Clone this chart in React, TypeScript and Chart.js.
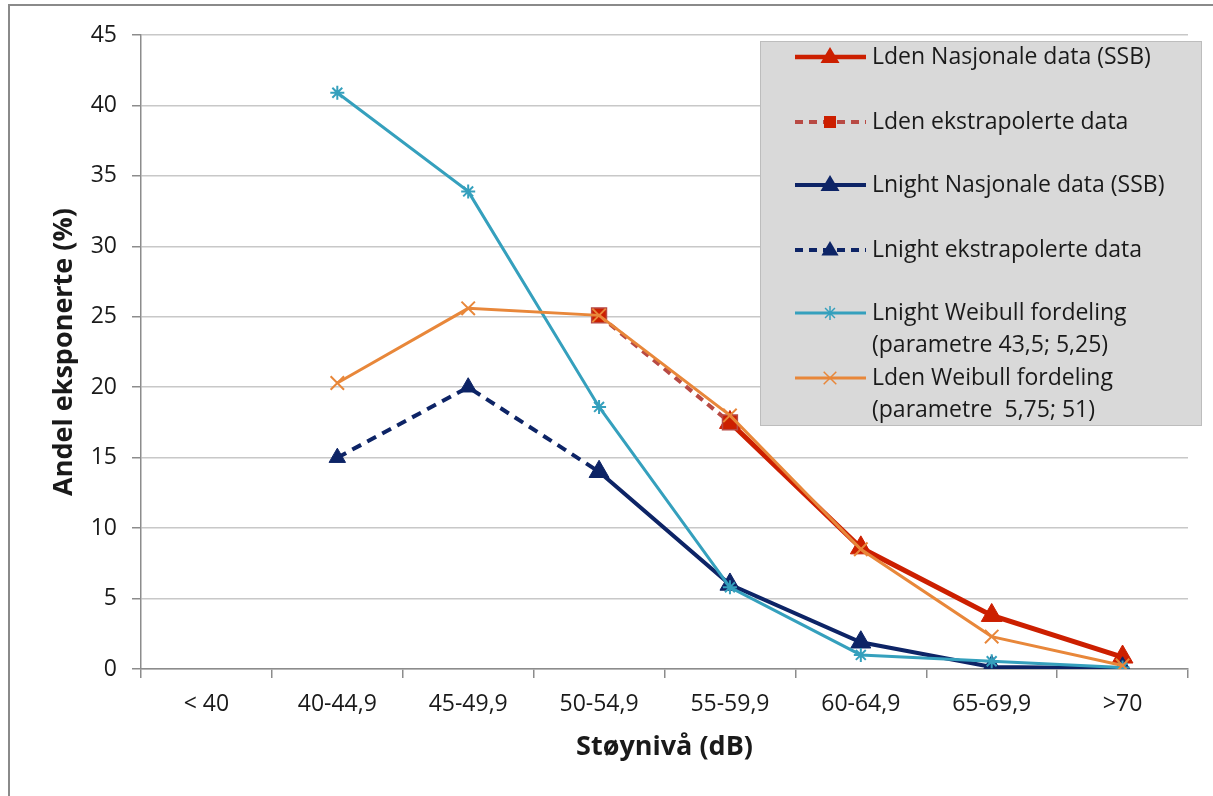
import React, { useEffect, useRef } from "react";
import { Chart, registerables } from "chart.js";

Chart.register(...registerables);

const categories = ["< 40", "40-44,9", "45-49,9", "50-54,9", "55-59,9", "60-64,9", "65-69,9", ">70"];
const ldenNasjonale = [null, null, null, null, 17.5, 8.6, 3.8, 0.85];
const ldenEkstrapolert = [null, null, null, 25.1, 17.5, null, null, null];
const lnightNasjonale = [null, null, null, 14.0, 6.0, 1.9, 0.15, 0.05];
const lnightEkstrapolert = [null, 15.0, 20.0, 14.0, null, null, null, null];
const lnightWeibull = [null, 40.9, 33.9, 18.6, 5.8, 1.0, 0.55, 0.1];
const ldenWeibull = [null, 20.3, 25.6, 25.1, 18.0, 8.5, 2.3, 0.25];

const seriesNames = [
  ["Lden Nasjonale data (SSB)"],
  ["Lden ekstrapolerte data"],
  ["Lnight Nasjonale data (SSB)"],
  ["Lnight ekstrapolerte data"],
  ["Lnight Weibull fordeling", "(parametre 43,5; 5,25)"],
  ["Lden Weibull fordeling", "(parametre  5,75; 51)"],
];

const RED = "#cc1f00";
const BROWN = "#b84a44";
const NAVY = "#0d2466";
const TEAL = "#35a0bd";
const ORANGE = "#e8873a";
const FONT = "'Open Sans', Lato, sans-serif";

function drawMarker(ctx: CanvasRenderingContext2D, style: string, x: number, y: number, r: number, fill: string, stroke: string) {
  ctx.save();
  ctx.fillStyle = fill;
  ctx.strokeStyle = stroke;
  ctx.lineWidth = 1.5;
  ctx.setLineDash([]);
  ctx.beginPath();
  if (style === "triangle") {
    ctx.moveTo(x, y - r);
    ctx.lineTo(x + r * 0.95, y + r * 0.6);
    ctx.lineTo(x - r * 0.95, y + r * 0.6);
    ctx.closePath();
    ctx.fill();
  } else if (style === "rect") {
    ctx.rect(x - r * 0.75, y - r * 0.75, r * 1.5, r * 1.5);
    ctx.fill();
  } else if (style === "star") {
    for (let i = 0; i < 4; i++) {
      const a = (i * Math.PI) / 4;
      ctx.moveTo(x - Math.cos(a) * r, y - Math.sin(a) * r);
      ctx.lineTo(x + Math.cos(a) * r, y + Math.sin(a) * r);
    }
    ctx.stroke();
  } else if (style === "crossRot") {
    const d = r * 0.7;
    ctx.moveTo(x - d, y - d);
    ctx.lineTo(x + d, y + d);
    ctx.moveTo(x + d, y - d);
    ctx.lineTo(x - d, y + d);
    ctx.stroke();
  }
  ctx.restore();
}

const legendSpec = [
  { color: RED, width: 4.5, dash: [] as number[], marker: "triangle", r: 10, fill: RED },
  { color: BROWN, width: 4, dash: [8, 6], marker: "rect", r: 8, fill: RED },
  { color: NAVY, width: 4, dash: [] as number[], marker: "triangle", r: 10, fill: NAVY },
  { color: NAVY, width: 4, dash: [8, 6], marker: "triangle", r: 9, fill: NAVY },
  { color: TEAL, width: 3, dash: [] as number[], marker: "star", r: 7, fill: TEAL },
  { color: ORANGE, width: 3, dash: [] as number[], marker: "crossRot", r: 9, fill: ORANGE },
];

const legendPlugin = {
  id: "boxLegend",
  afterDraw(chart: any) {
    const ctx: CanvasRenderingContext2D = chart.ctx;
    const left = 760, top = 41, w = 441, h = 384;
    ctx.save();
    ctx.fillStyle = "#d9d9d9";
    ctx.fillRect(left, top, w, h);
    ctx.strokeStyle = "#bdbdbd";
    ctx.lineWidth = 1;
    ctx.strokeRect(left + 0.5, top + 0.5, w, h);
    const rows = [57, 122, 185, 250, 313, 378];
    rows.forEach((cy, i) => {
      const s = legendSpec[i];
      ctx.beginPath();
      ctx.strokeStyle = s.color;
      ctx.lineWidth = s.width;
      ctx.setLineDash(s.dash);
      ctx.moveTo(795, cy);
      ctx.lineTo(866, cy);
      ctx.stroke();
      ctx.setLineDash([]);
      drawMarker(ctx, s.marker, 830, cy, s.r, s.fill, s.color);
      ctx.fillStyle = "#1a1a1a";
      ctx.font = `23px ${FONT}`;
      ctx.textBaseline = "middle";
      ctx.textAlign = "left";
      seriesNames[i].forEach((line, j) => {
        ctx.fillText(line, 872, cy + j * 32);
      });
    });
    ctx.restore();
  },
};

export default function App() {
  const ref = useRef<HTMLCanvasElement | null>(null);

  useEffect(() => {
    if (!ref.current) return;
    const chart = new Chart(ref.current, {
      type: "line",
      data: {
        labels: categories,
        datasets: [
          {
            label: seriesNames[0].join(" "),
            data: ldenNasjonale,
            borderColor: RED,
            backgroundColor: RED,
            borderWidth: 5,
            pointStyle: "triangle",
            pointRadius: 12,
            pointBorderWidth: 1,
            order: 6,
          },
          {
            label: seriesNames[1].join(" "),
            data: ldenEkstrapolert,
            borderColor: BROWN,
            backgroundColor: RED,
            borderWidth: 4,
            borderDash: [8, 6],
            pointStyle: "rect",
            pointRadius: 10.5,
            pointBorderColor: BROWN,
            pointBorderWidth: 1.5,
            order: 5,
          },
          {
            label: seriesNames[2].join(" "),
            data: lnightNasjonale,
            borderColor: NAVY,
            backgroundColor: NAVY,
            borderWidth: 4,
            pointStyle: "triangle",
            pointRadius: 11.5,
            pointBorderWidth: 1,
            order: 4,
          },
          {
            label: seriesNames[3].join(" "),
            data: lnightEkstrapolert,
            borderColor: NAVY,
            backgroundColor: NAVY,
            borderWidth: 4,
            borderDash: [10, 7],
            pointStyle: "triangle",
            pointRadius: 9.5,
            pointBorderWidth: 1,
            order: 3,
          },
          {
            label: seriesNames[4].join(" "),
            data: lnightWeibull,
            borderColor: TEAL,
            backgroundColor: TEAL,
            borderWidth: 3,
            pointStyle: "star",
            pointRadius: 7,
            pointBorderWidth: 2,
            order: 2,
          },
          {
            label: seriesNames[5].join(" "),
            data: ldenWeibull,
            borderColor: ORANGE,
            backgroundColor: ORANGE,
            borderWidth: 3,
            pointStyle: "crossRot",
            pointRadius: 9.5,
            pointBorderWidth: 2,
            order: 1,
          },
        ],
      },
      options: {
        animation: false,
        responsive: false,
        maintainAspectRatio: false,
        layout: { padding: { top: 35, right: 25, left: 0, bottom: 0 } },
        plugins: {
          legend: { display: false },
          tooltip: { enabled: false },
        },
        scales: {
          x: {
            type: "category",
            offset: true,
            grid: {
              display: true,
              offset: true,
              drawOnChartArea: false,
              drawTicks: true,
              tickLength: 9,
              color: "#8c8c8c",
              lineWidth: 1.5,
            },
            border: { color: "#8c8c8c", width: 1.5 },
            ticks: {
              color: "#1a1a1a",
              font: { family: FONT, size: 23 },
              padding: 13,
              maxRotation: 0,
              autoSkip: false,
            },
            title: {
              display: true,
              text: "Støynivå (dB)",
              color: "#1a1a1a",
              font: { family: FONT, size: 27, weight: "bold" },
              padding: { top: 0, bottom: 32 },
            },
            afterFit(axis: any) {
              axis.height = 127;
            },
          },
          y: {
            min: 0,
            max: 45,
            ticks: {
              stepSize: 5,
              color: "#1a1a1a",
              font: { family: FONT, size: 23 },
              padding: 15,
            },
            grid: {
              color: "#c8c8c8",
              lineWidth: 1.5,
              drawTicks: true,
              tickLength: 9,
              tickColor: "#8c8c8c",
            },
            border: { color: "#8c8c8c", width: 1.5 },
            title: {
              display: true,
              text: "Andel eksponerte (%)",
              color: "#1a1a1a",
              font: { family: FONT, size: 27, weight: "bold" },
              padding: { top: 48, bottom: 0 },
            },
            afterFit(axis: any) {
              axis.width = 141;
            },
          },
        },
      },
      plugins: [legendPlugin],
    } as any);
    return () => chart.destroy();
  }, []);

  return (
    <div style={{ position: "fixed", left: 0, top: 0, width: 1213, height: 796, background: "#fff", overflow: "hidden" }}>
      <div
        style={{
          position: "absolute",
          left: 8,
          top: 4,
          width: 1213,
          height: 800,
          borderLeft: "2px solid #8a8a8a",
          borderTop: "2px solid #8a8a8a",
          boxSizing: "border-box",
        }}
      />
      <canvas ref={ref} width={1213} height={796} style={{ position: "absolute", left: 0, top: 0, width: 1213, height: 796 }} />
    </div>
  );
}
